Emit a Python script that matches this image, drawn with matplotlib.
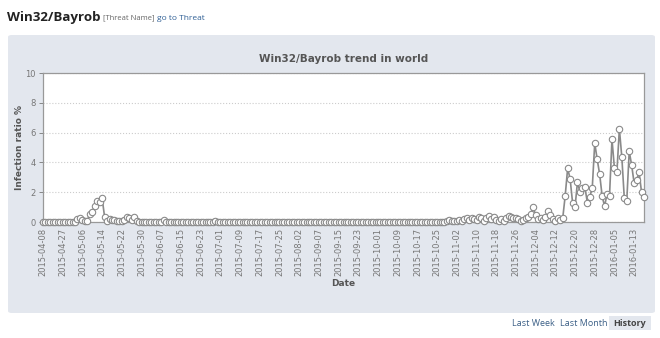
import numpy as np
import matplotlib.pyplot as plt
from matplotlib.patches import FancyBboxPatch, Rectangle

# tick labels (one every 8 data points)
tick_labels = ['2015-04-08', '2015-04-27', '2015-05-06', '2015-05-14', '2015-05-22',
               '2015-05-30', '2015-06-07', '2015-06-15', '2015-06-23', '2015-07-01',
               '2015-07-09', '2015-07-17', '2015-07-25', '2015-08-02', '2015-09-07',
               '2015-09-15', '2015-09-23', '2015-10-01', '2015-10-09', '2015-10-17',
               '2015-10-25', '2015-11-02', '2015-11-10', '2015-11-18', '2015-11-26',
               '2015-12-04', '2015-12-12', '2015-12-20', '2015-12-28', '2016-01-05',
               '2016-01-13']

# infection ratio % (245 points)
spring = [0.02] * 14 + [0.22, 0.25, 0.15, 0.05, 0.1, 0.55, 0.65, 1.1, 1.4, 1.35,
                        1.6, 0.35, 0.1, 0.18, 0.15, 0.15, 0.08, 0.05, 0.1, 0.15,
                        0.35, 0.25, 0.15, 0.35, 0.1, 0.03]
summer = [0.02] * 9 + [0.12] + [0.02] * 20 + [0.06] + [0.02] * 93
autumn = [0.1, 0.15, 0.1, 0.05, 0.1, 0.15, 0.05, 0.2, 0.25, 0.15,
          0.3, 0.2, 0.15, 0.35, 0.25, 0.1, 0.3, 0.4, 0.2, 0.35,
          0.15, 0.05, 0.2, 0.1, 0.3, 0.4, 0.35, 0.25, 0.3, 0.2,
          0.1, 0.15, 0.3, 0.35, 0.55, 1.0, 0.45, 0.2, 0.3, 0.15,
          0.35, 0.75, 0.45, 0.2, 0.05, 0.3, 0.15, 0.25]
winter = [1.75, 3.6, 2.9, 1.3, 1.0, 2.7, 2.0, 2.3, 2.35, 1.3,
          1.7, 2.3, 5.3, 4.2, 3.2, 1.75, 1.05, 1.9, 1.75, 5.55,
          3.6, 3.35, 6.25, 4.35, 1.6, 1.4, 4.75, 3.8, 2.6, 2.8,
          3.35, 2.0, 1.7]
ratio = spring + summer + autumn + winter

W, H = 660, 338
fig = plt.figure(figsize=(W / 100, H / 100), dpi=100)
fig.patch.set_facecolor('white')

# grey panel behind the chart
panel = FancyBboxPatch((8 / W, 1 - 313 / H), 647 / W, 278 / H,
                       boxstyle='round,pad=0,rounding_size=0.006',
                       transform=fig.transFigure, facecolor='#e3e7ee',
                       edgecolor='none', zorder=-5)
fig.patches.append(panel)

# page header
fig.text(7 / W, 1 - 17 / H, 'Win32/Bayrob', fontsize=9.6, fontweight='bold',
         family='Open Sans', color='#222222', va='center', ha='left')
fig.text(103 / W, 1 - 18 / H, '[Threat Name]', fontsize=5.5, family='Open Sans',
         color='#666666', va='center', ha='left')
fig.text(157 / W, 1 - 18 / H, 'go to Threat', fontsize=6, family='Open Sans',
         color='#2f5f95', va='center', ha='left')

ax = fig.add_axes([43 / W, 1 - 222 / H, 601 / W, 149 / H], zorder=2)
x = np.arange(len(ratio))
ax.plot(x, ratio, color='#8a8a8a', lw=1.2, marker='o', markersize=4.6,
        markerfacecolor='white', markeredgecolor='#8a8a8a', markeredgewidth=0.8,
        clip_on=False, zorder=3)

ax.set_xlim(0, len(ratio) - 1)
ax.set_ylim(0, 10)
ax.set_yticks([0, 2, 4, 6, 8, 10])
ax.set_xticks(np.arange(0, len(tick_labels) * 8, 8))
ax.set_xticklabels(tick_labels, rotation=90)
ax.tick_params(axis='both', labelsize=6, colors='#777777', length=3, width=0.6,
               pad=2)
ax.tick_params(axis='x', length=0, pad=4)
ax.grid(axis='y', linestyle=':', color='#cccccc', lw=0.8)
for s in ax.spines.values():
    s.set_color('#999999')
    s.set_linewidth(0.9)
ax.set_facecolor('white')

ax.set_title('Win32/Bayrob trend in world', fontsize=7.5, fontweight='bold',
             color='#555555', pad=8)
ax.set_ylabel('Infection ratio %', fontsize=6.5, fontweight='bold',
              color='#555555', labelpad=1)
fig.text(343 / W, 1 - 283 / H, 'Date', fontsize=6.5, fontweight='bold',
         color='#555555', ha='center', va='center')

# period switcher
fig.patches.append(Rectangle((609 / W, 1 - 330 / H), 42 / W, 14 / H,
                             transform=fig.transFigure, facecolor='#e3e7ee',
                             edgecolor='none', zorder=-5))
fig.text(512 / W, 1 - 323 / H, 'Last Week', fontsize=6.5, family='Open Sans',
         color='#3b5f86', va='center', ha='left')
fig.text(560 / W, 1 - 323 / H, 'Last Month', fontsize=6.5, family='Open Sans',
         color='#3b5f86', va='center', ha='left')
fig.text(613 / W, 1 - 323 / H, 'History', fontsize=6.5, fontweight='bold',
         family='Open Sans', color='#444444', va='center', ha='left')

fig.savefig('out.png', dpi=100)
